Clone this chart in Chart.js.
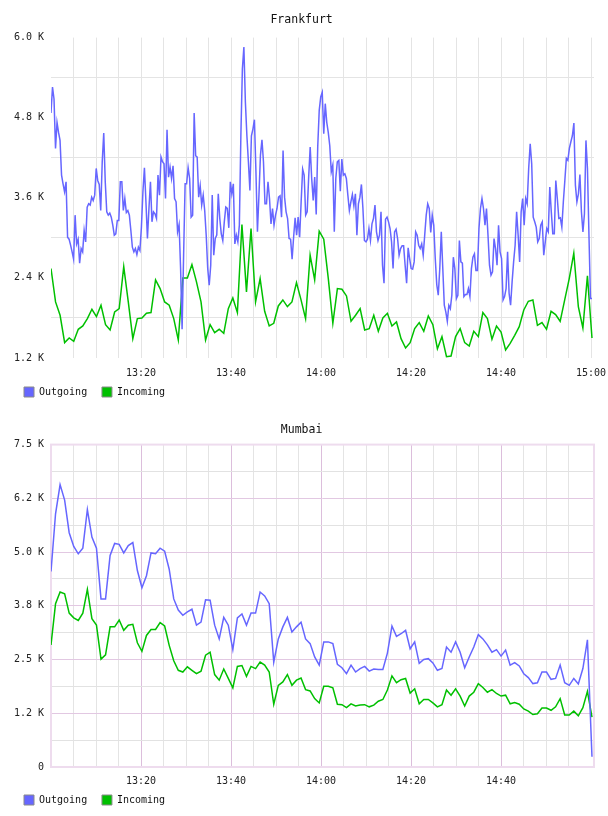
<!DOCTYPE html>
<html><head><meta charset="utf-8">
<script src="https://cdn.jsdelivr.net/npm/chart.js@4.4.1/dist/chart.umd.min.js"></script>
<style>
html,body{margin:0;padding:0;background:#fff;}
.box{width:608px;height:408px;position:relative;}
canvas{display:block;}
</style></head><body>
<div class="box"><canvas id="c1" width="608" height="408"></canvas></div>
<div class="box"><canvas id="c2" width="608" height="408"></canvas></div>
<script>
// ---- data (values in K) ----
const seriesNames = ['Outgoing', 'Incoming'];
const chartTitles = ['Frankfurt', 'Mumbai'];
const xTickLabels = ['13:20', '13:40', '14:00', '14:20', '14:40', '15:00'];
const frankfurtYTickLabels = ['1.2 K', '2.4 K', '3.6 K', '4.8 K', '6.0 K'];
const mumbaiYTickLabels = ['0', '1.2 K', '2.5 K', '3.8 K', '5.0 K', '6.2 K', '7.5 K'];
const sampleSpanMinutes = 120.2; // 13:00 -> last sample

const frankfurtOutgoing = [
4.87,5.26,5.08,4.34,4.73,4.58,4.46,3.94,3.81,3.69,
3.84,3.01,2.98,2.89,2.79,2.68,3.34,2.91,2.98,2.62,
2.84,2.79,3.11,2.94,3.46,3.51,3.49,3.61,3.56,3.64,
4.04,3.86,3.80,3.41,4.14,4.57,3.84,3.39,3.34,3.37,
3.31,3.19,3.04,3.06,3.26,3.26,3.84,3.84,3.41,3.59,
3.38,3.41,3.34,3.11,2.86,2.79,2.84,2.75,2.86,2.81,
3.16,3.69,4.05,3.54,2.99,3.44,3.84,3.24,3.39,3.36,
3.29,3.94,3.64,4.21,4.14,4.11,3.59,4.62,3.91,4.06,
3.89,4.08,3.59,3.54,3.09,3.20,2.54,1.63,2.74,3.81,
3.81,
4.05,3.89,3.31,3.34,4.87,4.23,4.21,3.61,3.78,3.49,
3.64,3.41,3.04,2.54,2.29,2.59,3.64,2.74,2.99,3.04,
3.66,3.29,3.06,2.96,3.24,3.46,3.44,3.15,3.84,3.66,
3.81,2.91,3.04,2.94,3.19,4.53,5.53,5.86,5.03,4.53,
4.14,3.71,4.53,4.63,4.77,3.99,3.09,3.64,4.24,4.47,
4.14,3.51,3.51,3.84,3.59,3.21,3.44,3.19,3.34,3.44,
3.61,3.63,3.31,4.31,3.61,3.39,3.29,2.99,2.98,2.68,
3.01,3.30,3.04,3.31,3.01,3.54,4.03,3.94,3.34,3.39,
3.91,4.36,3.89,3.56,3.91,3.35,4.36,4.91,5.11,5.18,
4.56,5.01,4.73,4.58,4.38,3.99,4.09,3.09,3.89,4.14,
4.16,3.70,4.18,3.94,3.96,3.89,3.64,3.41,3.54,3.65,
3.48,3.66,3.04,3.51,3.61,3.80,3.44,2.96,2.94,2.98,
3.14,2.96,3.21,3.29,3.49,3.09,2.96,3.04,3.39,2.59,
2.32,3.28,3.31,3.24,3.14,2.94,2.54,3.09,3.13,2.99,
2.74,2.84,2.88,2.88,2.59,2.32,2.85,2.69,2.54,2.53,
2.64,3.09,3.04,2.89,2.84,2.91,2.74,3.04,3.34,3.51,
3.44,3.08,3.34,3.19,2.69,2.30,2.14,2.54,3.09,2.54,
1.99,1.89,1.75,1.99,1.94,2.14,2.71,2.54,2.09,2.14,
2.96,2.64,2.62,2.12,2.15,2.15,2.24,2.12,2.54,2.71,
2.76,2.51,2.51,3.14,3.44,3.59,3.44,3.19,3.44,3.04,
2.59,2.44,2.49,2.99,2.84,2.59,3.19,2.79,2.69,2.07,
2.12,2.24,2.79,2.17,1.99,2.34,2.64,2.89,3.39,3.04,
2.64,3.39,3.59,3.19,3.59,3.51,4.04,4.41,4.11,3.31,
3.24,3.16,2.94,2.99,3.19,3.24,2.74,2.94,3.14,3.09,
3.76,3.39,3.06,3.06,3.86,3.59,3.29,3.30,3.16,3.54,
3.86,4.19,4.16,4.34,4.44,4.53,4.72,3.79,3.54,3.66,
3.95,3.39,3.09,3.36,4.46,4.04,3.04,2.09,2.09
];
const frankfurtIncoming = [
2.54,2.04,1.84,1.43,1.50,1.45,1.63,1.68,1.79,1.93,1.82,1.99,1.70,1.62,1.89,1.94,2.57,2.04,1.49,1.79,1.80,1.87,1.88,2.37,2.24,2.04,1.99,1.79,1.47,2.40,2.40,
2.60,2.34,2.04,1.47,1.70,1.58,1.63,1.57,1.94,2.10,1.88,3.20,2.19,3.14,2.04,2.39,1.90,1.68,1.72,1.98,2.07,1.97,2.04,2.33,2.07,1.79,2.74,2.37,3.10,
2.98,2.39,1.72,2.24,2.23,2.13,1.75,1.84,1.94,1.62,1.64,1.84,1.60,1.80,1.87,1.68,1.74,1.49,1.35,1.43,1.64,1.73,1.60,1.83,1.70,1.34,1.52,1.22,1.23,1.52,1.64,
1.43,1.38,1.60,1.52,1.88,1.79,1.48,1.68,1.59,1.32,1.42,1.54,1.67,1.92,2.05,2.07,1.69,1.73,1.63,1.90,1.85,1.75,2.07,2.39,2.77,1.97,1.65,2.43,1.50
];
const mumbaiOutgoing = [
4.55,5.89,6.57,6.21,5.45,5.13,4.96,5.09,5.99,5.35,
5.09,3.91,3.91,4.92,5.20,5.18,4.98,5.15,5.22,4.57,
4.17,4.45,4.98,4.96,5.09,5.02,4.60,3.91,3.65,
3.53,3.61,3.67,3.30,3.37,3.89,3.88,3.30,2.98,3.48,3.30,2.73,3.47,3.56,3.30,3.58,3.58,4.07,3.98,3.80,2.44,2.98,3.26,3.48,3.14,3.26,3.37,
2.98,2.87,2.56,2.37,2.91,2.91,2.87,2.39,2.31,2.17,
2.37,2.21,2.29,2.34,2.23,2.28,2.27,2.27,2.65,3.28,
3.04,3.10,3.18,2.75,2.91,2.41,2.50,2.52,2.42,2.25,
2.29,2.79,2.67,2.91,2.67,2.31,2.56,2.79,3.08,2.98,
2.84,2.67,2.73,2.58,2.72,2.37,2.43,2.35,2.17,2.08,
1.94,1.96,2.21,2.21,2.04,2.06,2.37,1.96,1.90,2.06,
1.93,2.29,2.96,0.24
];
const mumbaiIncoming = [
2.84,3.80,4.07,4.03,3.58,3.47,3.41,3.58,4.13,3.45,
3.30,2.51,2.61,3.26,3.26,3.42,3.18,3.30,3.32,2.89,
2.69,3.06,3.20,3.20,3.36,3.28,2.83,2.47,2.25,
2.21,2.33,2.25,2.17,2.23,2.60,2.67,2.15,2.02,2.28,2.06,1.84,2.34,2.36,2.11,2.34,2.29,2.44,2.37,2.21,1.46,1.90,1.98,2.15,1.90,2.02,2.07,
1.80,1.77,1.59,1.49,1.88,1.88,1.84,1.46,1.45,1.38,
1.47,1.42,1.44,1.45,1.40,1.44,1.53,1.57,1.79,2.12,
1.96,2.03,2.06,1.72,1.82,1.47,1.57,1.57,1.49,1.40,
1.45,1.79,1.67,1.82,1.65,1.42,1.65,1.74,1.94,1.85,
1.74,1.80,1.71,1.65,1.67,1.47,1.50,1.46,1.35,1.30,
1.22,1.24,1.37,1.37,1.32,1.40,1.59,1.21,1.21,1.30,
1.19,1.38,1.76,1.16
];

// ---- rendering ----
const FONT = "'DejaVu Sans Mono', monospace";
const BLUE = '#6666ff', GREEN = '#00c000';

function toPoints(vals) {
  return vals.map((v, i) => ({ x: i * sampleSpanMinutes / (vals.length - 1), y: v }));
}

const frameBorder = {
  id: 'frameBorder',
  beforeDatasetsDraw(chart, args, opts) {
    if (!opts || !opts.color) return;
    const { ctx, chartArea: a } = chart;
    ctx.save();
    ctx.strokeStyle = opts.color;
    ctx.lineWidth = opts.width || 1;
    ctx.strokeRect(a.left, a.top, a.right - a.left, a.bottom - a.top);
    ctx.restore();
  }
};
// moves the legend block up a little so it sits closer to the axis labels
const legendShift = {
  id: 'legendShift',
  afterLayout(chart, args, opts) {
    const l = chart.legend;
    if (l && opts && opts.dy) { l.top -= opts.dy; l.bottom -= opts.dy; }
  }
};

function makeChart(id, title, outVals, inVals, cfg) {
  const yLabelFor = (v) => {
    const k = Math.round((v - cfg.yMin) / cfg.yStep);
    return k % 2 === 0 ? cfg.yLabels[k / 2] : '';
  };
  return new Chart(document.getElementById(id), {
    type: 'line',
    data: {
      datasets: [
        { label: seriesNames[0], data: toPoints(outVals), borderColor: BLUE, backgroundColor: BLUE,
          borderWidth: 1.5, pointRadius: 0, tension: 0, fill: false },
        { label: seriesNames[1], data: toPoints(inVals), borderColor: GREEN, backgroundColor: GREEN,
          borderWidth: 1.5, pointRadius: 0, tension: 0, fill: false }
      ]
    },
    options: {
      responsive: false, animation: false, devicePixelRatio: 1, events: [],
      layout: { padding: { left: 9.2, right: 14, top: 0, bottom: 1 } },
      plugins: {
        title: { display: true, text: title, color: '#111',
          font: { family: FONT, size: 11.5, weight: 'normal' },
          padding: { top: cfg.titleTop, bottom: cfg.titleBottom } },
        legend: { display: true, position: 'bottom', align: 'start', maxHeight: 28,
          labels: { boxWidth: 10, boxHeight: 10, padding: 14.8, color: '#111',
            font: { family: FONT, size: 10 },
            generateLabels: (chart) => chart.data.datasets.map((ds, i) => ({
              text: ds.label, fillStyle: ds.borderColor, strokeStyle: '#8a8a8a', lineWidth: 1,
              hidden: false, datasetIndex: i, fontColor: '#111' })) } },
        tooltip: { enabled: false },
        frameBorder: cfg.frame,
        legendShift: { dy: 6.8 }
      },
      scales: {
        x: {
          type: 'linear', min: 0, max: 120.65,
          afterFit: (s) => { s.height = cfg.xHeight; s.paddingLeft = 0; s.paddingRight = 0; },
          afterBuildTicks: (s) => { s.ticks = s.ticks.filter(t => t.value <= cfg.lastTick); },
          border: { display: false },
          grid: { drawTicks: false, lineWidth: 1, color: (c) => cfg.xGrid(c.tick.value) },
          ticks: { stepSize: 5, autoSkip: false, maxRotation: 0, minRotation: 0, includeBounds: false,
            padding: cfg.xPad, color: '#222', font: { family: FONT, size: 10 },
            callback: (v) => (v > 0 && v % 20 === 0) ? xTickLabels[v / 20 - 1] : '' }
        },
        y: {
          type: 'linear', min: cfg.yMin, max: cfg.yMax,
          afterFit: (s) => { s.width = 41.8; s.paddingTop = 0; s.paddingBottom = 0; },
          border: { display: false },
          grid: { drawTicks: false, lineWidth: 1,
            color: (c) => (yLabelFor(c.tick.value) !== '' ? cfg.yMajor : cfg.yMinor) },
          ticks: { stepSize: cfg.yStep, padding: 7, color: '#222', font: { family: FONT, size: 10 },
            callback: (v) => yLabelFor(v) }
        }
      }
    },
    plugins: [frameBorder, legendShift]
  });
}

makeChart('c1', chartTitles[0], frankfurtOutgoing, frankfurtIncoming, {
  titleTop: 13.4, titleBottom: 10.4, xHeight: 21, xPad: 9,
  yMin: 1.2, yMax: 6.0, yStep: 0.6, yLabels: frankfurtYTickLabels,
  yMajor: 'rgba(0,0,0,0)', yMinor: '#e4e4e4',
  xGrid: (v) => v === 0 ? 'rgba(0,0,0,0)' : '#e4e4e4',
  lastTick: 120, frame: { color: null }
});
makeChart('c2', chartTitles[1], mumbaiOutgoing, mumbaiIncoming, {
  titleTop: 15.4, titleBottom: 7.4, xHeight: 20, xPad: 8,
  yMin: 0, yMax: 7.5, yStep: 0.625, yLabels: mumbaiYTickLabels,
  yMajor: '#e2c8e2', yMinor: '#e2e2e2',
  xGrid: (v) => v % 20 === 0 ? '#dcbedc' : '#e4e4e4',
  lastTick: 119.9, frame: { color: '#eedcee', width: 2 }
});
</script>
</body></html>
